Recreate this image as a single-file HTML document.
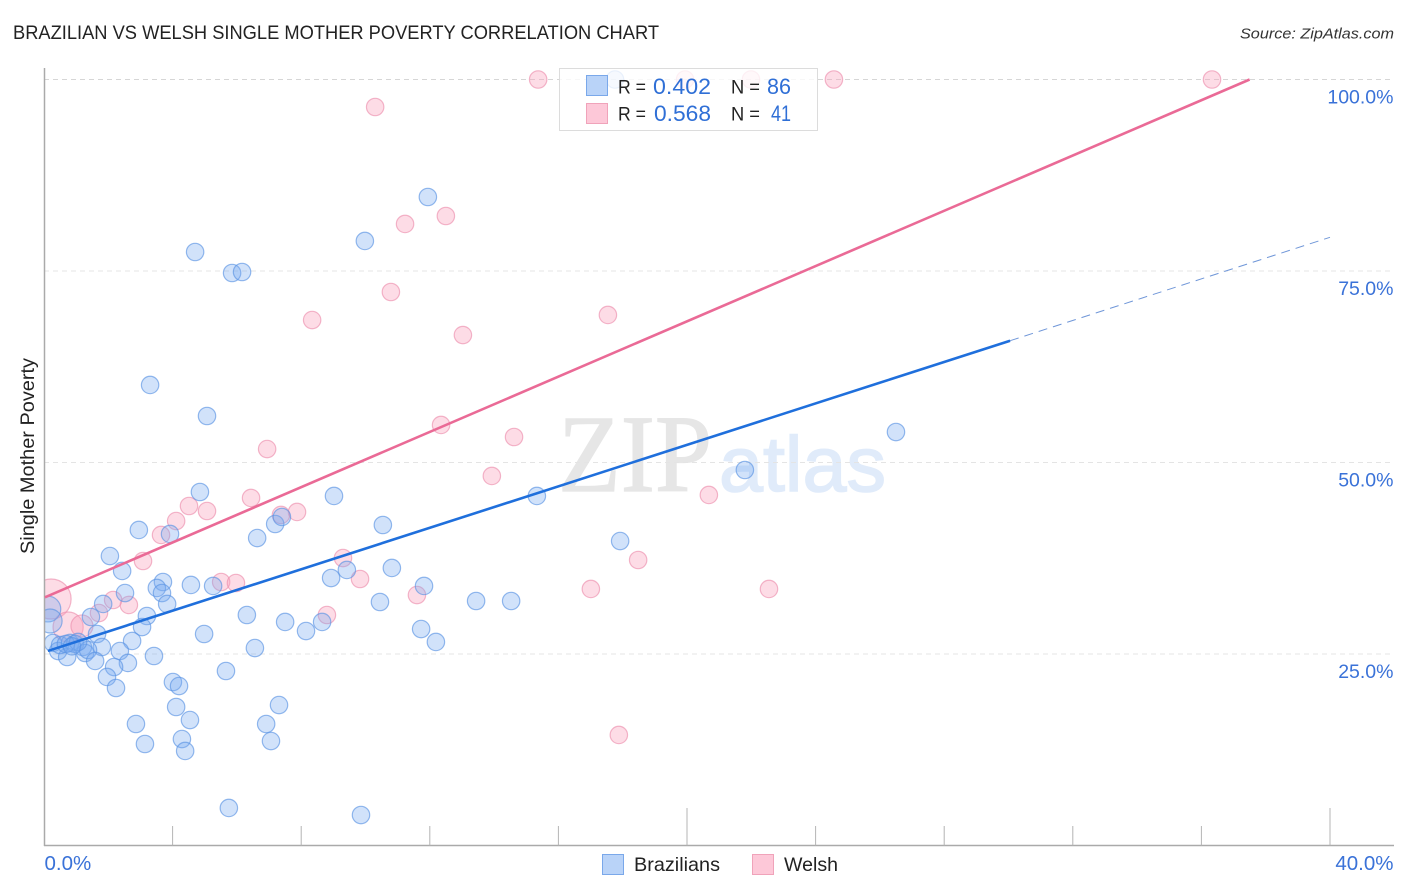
<!DOCTYPE html>
<html lang="en">
<head>
<meta charset="utf-8">
<title>Brazilian vs Welsh Single Mother Poverty Correlation Chart</title>
<style>
html,body{margin:0;padding:0;background:#fff;width:1406px;height:892px;overflow:hidden}
svg{display:block}
text{font-family:"Liberation Sans",sans-serif}
</style>
</head>
<body>
<svg id="chart" xmlns="http://www.w3.org/2000/svg" width="1406" height="892" viewBox="0 0 1406 892">
  <rect x="0" y="0" width="1406" height="892" fill="#fff"/>
  <text x="13" y="39" font-size="19" fill="#222" textLength="646" lengthAdjust="spacingAndGlyphs">BRAZILIAN VS WELSH SINGLE MOTHER POVERTY CORRELATION CHART</text>
  <text x="1394" y="38.5" font-size="15" font-style="italic" fill="#333" text-anchor="end" textLength="154" lengthAdjust="spacingAndGlyphs">Source: ZipAtlas.com</text>
  <text x="558" y="491" font-size="110" style="font-family:'Liberation Serif',serif" fill="#e6e6e6" stroke="#e6e6e6" stroke-width="1.2" textLength="154" lengthAdjust="spacingAndGlyphs">ZIP</text>
  <text x="719" y="491" font-size="78" fill="#e0ebfa" stroke="#e0ebfa" stroke-width="1.5" textLength="167" lengthAdjust="spacingAndGlyphs">atlas</text>
  <g id="grid"></g>
  <g id="points"></g>
  <rect x="0" y="560" width="44.5" height="120" fill="#fff"/>
  <g id="axes"></g>
  <g id="trends"></g>
  <text transform="translate(34 456) rotate(-90)" font-size="19" fill="#222" text-anchor="middle" textLength="196" lengthAdjust="spacingAndGlyphs">Single Mother Poverty</text>
  <g id="tick-labels"></g>

  <g>
    <rect x="559.5" y="68.5" width="258" height="62" fill="#fff" fill-opacity="0.8" stroke="#dcdcdc" stroke-width="1"/>
    <rect x="586.5" y="75.5" width="21" height="20" fill="#b9d3f8" stroke="#7aa8ea" stroke-width="1"/>
    <rect x="586.5" y="103.5" width="21" height="20" fill="#fdc8d8" stroke="#f0a3ba" stroke-width="1"/>
    <text x="618" y="93.5" font-size="19" fill="#222" textLength="28" lengthAdjust="spacingAndGlyphs">R =</text>
    <text x="653" y="94" font-size="22" fill="#2f6fd6" textLength="58" lengthAdjust="spacingAndGlyphs">0.402</text>
    <text x="731" y="93.5" font-size="19" fill="#222" textLength="29" lengthAdjust="spacingAndGlyphs">N =</text>
    <text x="767" y="94" font-size="22" fill="#2f6fd6" textLength="24" lengthAdjust="spacingAndGlyphs">86</text>
    <text x="618" y="120.5" font-size="19" fill="#222" textLength="28" lengthAdjust="spacingAndGlyphs">R =</text>
    <text x="654" y="121" font-size="22" fill="#2f6fd6" textLength="57" lengthAdjust="spacingAndGlyphs">0.568</text>
    <text x="731" y="120.5" font-size="19" fill="#222" textLength="29" lengthAdjust="spacingAndGlyphs">N =</text>
    <text x="771" y="121" font-size="22" fill="#2f6fd6" textLength="20" lengthAdjust="spacingAndGlyphs">41</text>
  </g>

  <g>
    <rect x="602.5" y="854.5" width="21" height="20" fill="#b9d3f8" stroke="#7aa8ea" stroke-width="1"/>
    <text x="634" y="871" font-size="19.5" fill="#222" textLength="86" lengthAdjust="spacingAndGlyphs">Brazilians</text>
    <rect x="752.5" y="854.5" width="21" height="20" fill="#fdc8d8" stroke="#f0a3ba" stroke-width="1"/>
    <text x="784" y="871" font-size="19.5" fill="#222" textLength="54" lengthAdjust="spacingAndGlyphs">Welsh</text>
  </g>
</svg>
<script>
// Series values: x = % Brazilians/Welsh, y = single mother poverty %. First entries carry the weights below.
const brazilianX = [0.12,0.19,11.94,4.70,5.85,6.16,9.98,3.30,5.07,26.50,21.80,4.85,9.02,15.33,2.95,3.92,6.63,7.19,7.40,10.54,17.92,2.05,2.43,9.42,10.82,8.93,3.70,3.51,3.67,4.57,5.26,11.82,2.52,1.84,3.83,10.45,13.44,14.53,6.31,3.20,1.46,3.05,7.50,8.65,8.15,11.73,4.98,1.65,2.74,12.19,1.80,6.56,2.36,3.42,2.61,5.66,2.18,1.96,2.24,4.01,4.20,4.11,7.31,4.54,2.86,6.91,7.06,3.14,4.29,4.39,5.75,9.86,17.76,0.28,0.44,0.72,0.50,0.81,0.96,0.68,1.21,1.28,1.37,1.59,1.06,0.87];
const brazilianY = [30.87,29.31,84.66,77.48,74.74,74.87,78.92,60.12,56.07,53.98,49.02,46.15,45.63,45.63,41.19,40.67,40.14,41.97,42.89,41.84,39.75,37.79,35.84,35.97,36.23,34.92,34.40,33.62,32.96,34.01,33.88,33.88,32.96,31.53,31.53,31.79,31.92,31.92,30.09,29.96,29.83,28.52,29.18,29.18,28.00,28.26,27.61,27.61,26.70,26.57,25.91,25.78,25.39,24.74,23.83,22.78,23.30,22.00,20.56,21.34,20.82,18.08,18.34,16.38,15.86,15.86,13.64,13.25,13.90,12.34,4.90,3.98,100,26.44,25.39,24.61,26.17,26.44,26.31,26.31,25.91,25.13,25.52,24.09,26.57,26.00];
const brazilianWeight = [2.2,1.9];
const welshX = [0.22,0.75,1.18,15.37,19.94,21.99,24.57,36.33,10.30,11.23,12.50,10.79,8.34,17.54,13.03,12.35,14.62,6.94,13.93,20.68,6.44,4.51,4.11,5.07,7.87,7.37,3.64,3.08,9.30,18.48,9.83,5.51,5.97,11.60,17.01,22.55,2.64,2.15,8.80,1.71,17.88];
const welshY = [32.18,28.52,28.66,100,100,100,100,100,96.41,81.14,82.18,72.26,68.60,69.26,66.64,54.90,53.33,51.76,48.24,45.76,45.37,44.32,42.36,43.67,43.54,43.15,40.54,37.14,37.53,37.27,34.79,34.40,34.27,32.70,33.49,33.49,31.40,32.05,30.09,30.35,14.43];
const welshWeight = [5.3,3.0,1.6];
const brazilianTrendX = [0.12,30.05];
const brazilianTrendY = [25.4,65.9];
const brazilianForecastX = [30.05,40];
const brazilianForecastY = [65.9,79.4];
const welshTrendX = [0.03,37.5];
const welshTrendY = [32.4,100];
const xTickValues = [4,8,12,16,20,24,28,32,36,40];
const xMajorTicks = [20,40];
const xEndLabels = ["0.0%","40.0%"];
const yGridValues = [25,50,75,100];
const yTickLabels = ["25.0%","50.0%","75.0%","100.0%"];

const SVGNS = 'http://www.w3.org/2000/svg';
function xScale(v){ return 44 + v * 32.15; }
function yScale(v){ return 845.5 - v * 7.66; }
function make(tag, attrs, parent){
  const el = document.createElementNS(SVGNS, tag);
  for (const k in attrs) el.setAttribute(k, attrs[k]);
  parent.appendChild(el);
  return el;
}
const gridG = document.getElementById('grid');
const axesG = document.getElementById('axes');
const pointsG = document.getElementById('points');
const trendsG = document.getElementById('trends');
const labelsG = document.getElementById('tick-labels');

yGridValues.forEach(function(v, i){
  const line = make('line', {x1:44, x2:1393, y1:yScale(v), y2:yScale(v), stroke: v === 100 ? '#d6d6d6' : '#e4e4e4', 'stroke-width':1, 'stroke-dasharray':'5 4'}, gridG);
  
  
  const label = make('text', {x:1393.5, y:yScale(v) + 24, 'font-size':19.5, fill:'#3a72d8', 'text-anchor':'end'}, labelsG);
  
  
  label.textContent = yTickLabels[i];
});

const yAxis = make('line', {x1:44.5, x2:44.5, y1:68, y2:846, stroke:'#aaa', 'stroke-width':1.5}, axesG);


const xAxis = make('line', {x1:44, x2:1394, y1:845.5, y2:845.5, stroke:'#aaa', 'stroke-width':1.5}, axesG);


xTickValues.forEach(function(v){
  const major = xMajorTicks.indexOf(v) >= 0;
  const tick = make('line', {x1:xScale(v), x2:xScale(v), y1: major ? 808 : 826, y2:845.5, stroke:'#b4b4b4', 'stroke-width':1}, axesG);
  
  
});

const xStart = make('text', {x:44.5, y:870, 'font-size':20.5, fill:'#3a72d8'}, labelsG);


xStart.textContent = xEndLabels[0];
const xEnd = make('text', {x:1393.5, y:870, 'font-size':20.5, fill:'#3a72d8', 'text-anchor':'end'}, labelsG);


xEnd.textContent = xEndLabels[1];

function drawSeries(xs, ys, weights, fill, fillOpacity, stroke, name){
  xs.forEach(function(x, i){
    const w = i < weights.length ? weights[i] : 1;
    const c = make('circle', {cx:xScale(x), cy:yScale(ys[i]), r:8.7 * Math.sqrt(w), fill:fill, 'fill-opacity':fillOpacity, stroke:stroke, 'stroke-opacity':0.65, 'stroke-width':1.2}, pointsG);
    
    
  });
}
drawSeries(welshX, welshY, welshWeight, '#f9a3bd', 0.38, '#ec8fae', 'point-welsh');
drawSeries(brazilianX, brazilianY, brazilianWeight, '#78aaf0', 0.34, '#5a93e4', 'point-brazilian');

const welshTrend = make('line', {x1:xScale(welshTrendX[0]), y1:yScale(welshTrendY[0]), x2:xScale(welshTrendX[1]), y2:yScale(welshTrendY[1]), stroke:'#ea6a96', 'stroke-width':2.6}, trendsG);


const brazilianTrend = make('line', {x1:xScale(brazilianTrendX[0]), y1:yScale(brazilianTrendY[0]), x2:xScale(brazilianTrendX[1]), y2:yScale(brazilianTrendY[1]), stroke:'#1f6fdc', 'stroke-width':2.6}, trendsG);


const brazilianForecast = make('line', {x1:xScale(brazilianForecastX[0]), y1:yScale(brazilianForecastY[0]), x2:xScale(brazilianForecastX[1]), y2:yScale(brazilianForecastY[1]), stroke:'#6f96d8', 'stroke-width':1, 'stroke-dasharray':'9 6'}, trendsG);


</script>
</body>
</html>
